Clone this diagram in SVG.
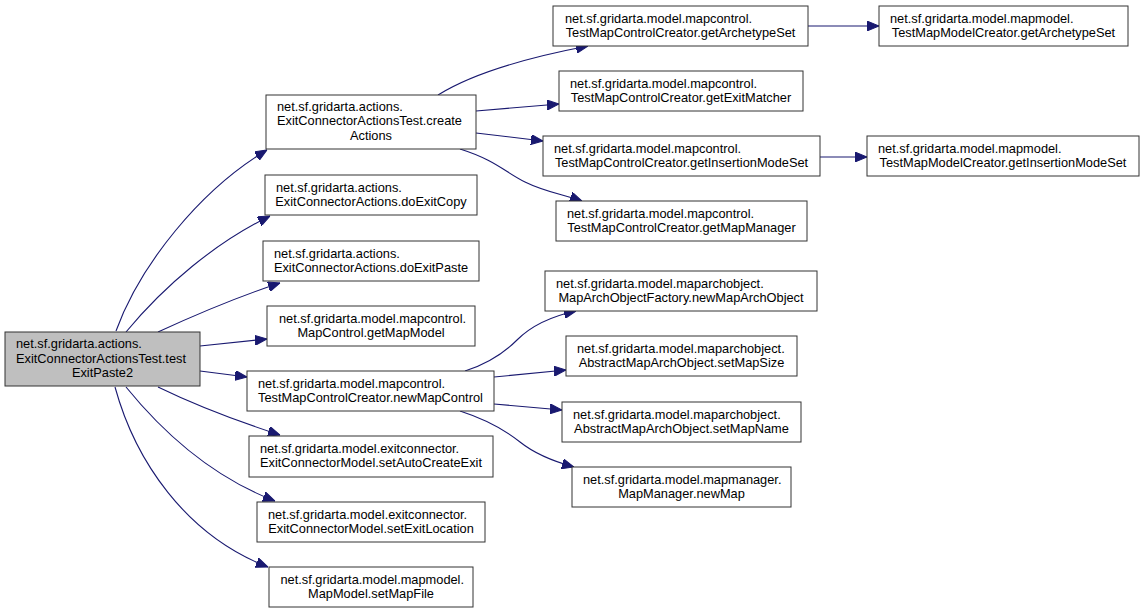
<svg xmlns="http://www.w3.org/2000/svg" width="1144" height="613" viewBox="0 0 1144 613">
<defs>
<style>
.n rect{fill:#ffffff;stroke:#333333;stroke-width:1}
.n.root rect{fill:#bfbfbf}
.n text{font-family:"Liberation Sans",Arial,Helvetica,sans-serif;font-size:12.8px;fill:#000}
.n text.c{text-anchor:middle}
.e path{fill:none;stroke:#191970;stroke-width:1.1;marker-end:url(#ah)}
</style>
<marker id="ah" viewBox="0 0 12 10" refX="12" refY="5" markerWidth="12" markerHeight="10" markerUnits="userSpaceOnUse" orient="auto">
<path d="M0,0 L12,5 L0,10 Z" fill="#191970" stroke="#191970" stroke-width="1"/>
</marker>
</defs>
<rect x="0" y="0" width="1144" height="613" fill="#ffffff"/>

<g id="edges" class="e">
<path d="M116,331 C140,265 200,190 267,150"/>
<path d="M126,332 C165,285 215,243 270,216"/>
<path d="M158,332 C195,315 240,296 280,283"/>
<path d="M200,346 L267,339"/>
<path d="M200,371 L247,377"/>
<path d="M158,387 C195,405 240,422 280,435"/>
<path d="M126,387 C165,435 215,478 275,501"/>
<path d="M115,387 C135,460 185,535 268,567"/>
<path d="M438,95 C470,75 525,58 588,46"/>
<path d="M476,111 L559,104"/>
<path d="M476,133 L543,141"/>
<path d="M460,149 C495,160 505,172 525,182 C545,192 565,195 582,201"/>
<path d="M808,26 L879,26"/>
<path d="M820,157 L867,157"/>
<path d="M465,371 C490,363 505,352 517,340 C530,327 548,317 576,311"/>
<path d="M494,377 L566,370"/>
<path d="M494,404 L562,410"/>
<path d="M460,411 C488,420 505,430 520,442 C535,454 552,461 574,467"/>
</g>

<g id="node-root" class="n root">
<rect x="5" y="332" width="195" height="54"/>
<text x="16" y="348">net.sf.gridarta.actions.</text>
<text x="16" y="362.5">ExitConnectorActionsTest.test</text>
<text class="c" x="102.5" y="377">ExitPaste2</text>
</g>

<g id="node-createActions" class="n">
<rect x="266" y="95" width="210" height="54"/>
<text x="277" y="111">net.sf.gridarta.actions.</text>
<text x="277" y="125">ExitConnectorActionsTest.create</text>
<text class="c" x="371" y="139.5">Actions</text>
</g>

<g id="node-doExitCopy" class="n">
<rect x="265" y="175" width="212" height="40"/>
<text x="276" y="192">net.sf.gridarta.actions.</text>
<text class="c" x="371" y="206">ExitConnectorActions.doExitCopy</text>
</g>

<g id="node-doExitPaste" class="n">
<rect x="263" y="241" width="216" height="40"/>
<text x="274" y="258">net.sf.gridarta.actions.</text>
<text class="c" x="371" y="272">ExitConnectorActions.doExitPaste</text>
</g>

<g id="node-getMapModel" class="n">
<rect x="267" y="306" width="208" height="40"/>
<text x="279" y="323">net.sf.gridarta.model.mapcontrol.</text>
<text class="c" x="371" y="337">MapControl.getMapModel</text>
</g>

<g id="node-newMapControl" class="n">
<rect x="247" y="371" width="247" height="40"/>
<text x="258" y="388">net.sf.gridarta.model.mapcontrol.</text>
<text class="c" x="370.5" y="402">TestMapControlCreator.newMapControl</text>
</g>

<g id="node-setAutoCreateExit" class="n">
<rect x="249" y="436" width="244" height="41"/>
<text x="260" y="453">net.sf.gridarta.model.exitconnector.</text>
<text class="c" x="371" y="467">ExitConnectorModel.setAutoCreateExit</text>
</g>

<g id="node-setExitLocation" class="n">
<rect x="257" y="502" width="228" height="40"/>
<text x="268" y="519">net.sf.gridarta.model.exitconnector.</text>
<text class="c" x="371" y="533">ExitConnectorModel.setExitLocation</text>
</g>

<g id="node-setMapFile" class="n">
<rect x="269" y="567" width="204" height="40"/>
<text x="280.5" y="584">net.sf.gridarta.model.mapmodel.</text>
<text class="c" x="371" y="598">MapModel.setMapFile</text>
</g>

<g id="node-mc-getArchetypeSet" class="n">
<rect x="553" y="6" width="255" height="40"/>
<text x="565" y="23">net.sf.gridarta.model.mapcontrol.</text>
<text class="c" x="680.5" y="37">TestMapControlCreator.getArchetypeSet</text>
</g>

<g id="node-mc-getExitMatcher" class="n">
<rect x="559" y="71" width="244" height="40"/>
<text x="570" y="88">net.sf.gridarta.model.mapcontrol.</text>
<text class="c" x="681" y="102">TestMapControlCreator.getExitMatcher</text>
</g>

<g id="node-mc-getInsertionModeSet" class="n">
<rect x="543" y="136" width="277" height="40"/>
<text x="554" y="153">net.sf.gridarta.model.mapcontrol.</text>
<text class="c" x="681.5" y="167">TestMapControlCreator.getInsertionModeSet</text>
</g>

<g id="node-mc-getMapManager" class="n">
<rect x="556" y="201" width="251" height="40"/>
<text x="567" y="218">net.sf.gridarta.model.mapcontrol.</text>
<text class="c" x="681.5" y="232">TestMapControlCreator.getMapManager</text>
</g>

<g id="node-mm-getArchetypeSet" class="n">
<rect x="879" y="6" width="249" height="40"/>
<text x="890" y="23">net.sf.gridarta.model.mapmodel.</text>
<text class="c" x="1003.5" y="37">TestMapModelCreator.getArchetypeSet</text>
</g>

<g id="node-mm-getInsertionModeSet" class="n">
<rect x="867" y="136" width="272" height="40"/>
<text x="878" y="153">net.sf.gridarta.model.mapmodel.</text>
<text class="c" x="1003" y="167">TestMapModelCreator.getInsertionModeSet</text>
</g>

<g id="node-newMapArchObject" class="n">
<rect x="545" y="271" width="272" height="40"/>
<text x="556" y="288">net.sf.gridarta.model.maparchobject.</text>
<text class="c" x="681" y="302">MapArchObjectFactory.newMapArchObject</text>
</g>

<g id="node-setMapSize" class="n">
<rect x="566" y="336" width="231" height="40"/>
<text x="577" y="353">net.sf.gridarta.model.maparchobject.</text>
<text class="c" x="681.5" y="367">AbstractMapArchObject.setMapSize</text>
</g>

<g id="node-setMapName" class="n">
<rect x="562" y="402" width="239" height="40"/>
<text x="573" y="419">net.sf.gridarta.model.maparchobject.</text>
<text class="c" x="681.5" y="433">AbstractMapArchObject.setMapName</text>
</g>

<g id="node-newMap" class="n">
<rect x="572" y="467" width="219" height="40"/>
<text x="583" y="484">net.sf.gridarta.model.mapmanager.</text>
<text class="c" x="681.5" y="498">MapManager.newMap</text>
</g>
</svg>
